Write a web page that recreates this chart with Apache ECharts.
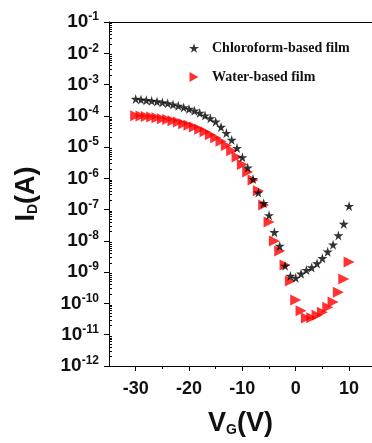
<!DOCTYPE html>
<html>
<head>
<meta charset="utf-8">
<script src="https://cdn.jsdelivr.net/npm/echarts@6/dist/echarts.min.js"></script>
<style>
html,body{margin:0;padding:0;background:#fff;}
#wrap{position:relative;width:372px;height:443px;}
#c,#f{position:absolute;left:0;top:0;width:372px;height:443px;}
#f{pointer-events:none;}
#err{position:absolute;left:2px;bottom:0;font:8px sans-serif;color:#999;}
</style>
</head>
<body>
<div id="wrap"><div id="c"></div><div id="f"></div><div id="err"></div></div>
<script>
// Gate voltage (V)
const vg = [-30,-29,-28,-27,-26,-25,-24,-23,-22,-21,-20,-19,-18,-17,-16,-15,-14,-13,-12,-11,-10,-9,-8,-7,-6,-5,-4,-3,-2,-1,0,1,2,3,4,5,6,7,8,9,10];
// Drain current (A), chloroform-based film
const chloroform = [3.47e-4,3.31e-4,3.16e-4,3.02e-4,2.88e-4,2.69e-4,2.51e-4,2.29e-4,2.09e-4,1.86e-4,1.66e-4,1.45e-4,1.23e-4,1.02e-4,8.3e-5,6.5e-5,4.4e-5,2.8e-5,1.7e-5,9.3e-6,4.7e-6,2.2e-6,9.5e-7,3.5e-7,1.6e-7,6.6e-8,1.9e-8,6.9e-9,1.6e-9,7.6e-10,6.6e-10,8.9e-10,1.17e-9,1.41e-9,1.9e-9,2.8e-9,4.5e-9,7.6e-9,1.5e-8,3.5e-8,1.3e-7];
// Drain current (A), water-based film
const water = [1.0e-4,9.8e-5,9.5e-5,9.1e-5,8.7e-5,8.1e-5,7.6e-5,6.9e-5,6.3e-5,5.6e-5,5.0e-5,4.4e-5,3.7e-5,3.1e-5,2.5e-5,2.0e-5,1.55e-5,1.12e-5,7.6e-6,4.8e-6,2.8e-6,1.6e-6,8.9e-7,4.0e-7,1.4e-7,4.0e-8,1.0e-8,4.8e-9,1.7e-9,5.2e-10,1.3e-10,5.8e-11,3.4e-11,3.5e-11,4.2e-11,5.2e-11,7.6e-11,1.12e-10,2.3e-10,6.0e-10,2.1e-9];
const xMajorTicks = [-30,-20,-10,0,10];
const xMinorTicks = [-25,-15,-5,5];
const yMajorTicks = [1e-12,1e-11,1e-10,1e-9,1e-8,1e-7,1e-6,1e-5,1e-4,1e-3,1e-2,1e-1];
const seriesNames = ['Chloroform-based film','Water-based film'];

const yMinorTicks = [];
for (let e = -12; e < -1; e++) for (let m = 2; m <= 9; m++) yMinorTicks.push(m * Math.pow(10, e));

const X_MIN = -35, X_MAX = 14.3, Y_MIN = 1e-12, Y_MAX = 1e-1;
const GRID = {left: 109, top: 22, right: 0, height: 344};
const STAR = 'path://M50,0 L61,35 L98,35 L68,57 L79,91 L50,70 L21,91 L32,57 L2,35 L39,35 Z';
const TRI = 'path://M0,0 L90,50 L0,100 Z';
const sans = 'Liberation Sans, Arial, sans-serif';
const serif = 'Liberation Serif, Times New Roman, serif';
const AX = '#000';

// ---- main chart: marks, labels, names, legend ----
try {
  const chart = echarts.init(document.getElementById('c'), null, {renderer: 'canvas'});
  chart.setOption({
    animation: false,
    grid: GRID,
    legend: {
      orient: 'vertical', left: 184, top: 36,
      itemWidth: 10, itemHeight: 10, itemGap: 15,
      textStyle: {fontFamily: serif, fontWeight: 'bold', fontSize: 14, color: '#111', lineHeight: 14, padding: [0,0,0,8]},
      data: [{name: seriesNames[0], icon: STAR}, {name: seriesNames[1], icon: TRI}]
    },
    xAxis: [{
      type: 'value', min: X_MIN, max: X_MAX, position: 'bottom',
      axisLine: {show: false, onZero: false}, splitLine: {show: false}, axisTick: {show: false},
      axisLabel: {customValues: xMajorTicks, margin: 14, fontFamily: sans, fontWeight: 'bold', fontSize: 18, color: '#111'},
      name: '{b|V}{sub|G}{b|(V)}', nameLocation: 'middle', nameGap: 44,
      nameTextStyle: {rich: {
        b: {fontFamily: sans, fontWeight: 'bold', fontSize: 27, color: '#111'},
        sub: {fontFamily: sans, fontWeight: 'bold', fontSize: 14, color: '#111', verticalAlign: 'bottom', padding: [12,0,0,0]}
      }}
    }],
    yAxis: [{
      type: 'log', logBase: 10, min: Y_MIN, max: Y_MAX, position: 'left',
      axisLine: {show: false, onZero: false}, splitLine: {show: false}, axisTick: {show: false},
      axisLabel: {margin: 10, customValues: yMajorTicks, formatter: function (v) {
          const e = Math.round(Math.log10(v));
          return '{b|10}{s|' + e + '}';
        }, rich: {
          b: {fontFamily: sans, fontWeight: 'bold', fontSize: 19, color: '#111'},
          s: {fontFamily: sans, fontWeight: 'bold', fontSize: 12, color: '#111', verticalAlign: 'top', padding: [0,0,10,0]}
        }},
      name: '{b|I}{sub|D}{b|(A)}', nameLocation: 'middle', nameGap: 69, nameRotate: 90,
      nameTextStyle: {rich: {
        b: {fontFamily: sans, fontWeight: 'bold', fontSize: 27, color: '#111'},
        sub: {fontFamily: sans, fontWeight: 'bold', fontSize: 14, color: '#111', verticalAlign: 'bottom', padding: [12,0,0,0]}
      }}
    }],
    series: [
      {name: seriesNames[1], type: 'scatter', symbol: TRI, symbolSize: 11,
       itemStyle: {color: '#ff0000'}, data: vg.map((v, i) => [v, water[i]])},
      {name: seriesNames[0], type: 'scatter', symbol: STAR, symbolSize: 10,
       itemStyle: {color: '#000000'}, data: vg.map((v, i) => [v, chloroform[i]])}
    ]
  });
} catch (e) {
  document.getElementById('err').textContent = 'main: ' + (e && e.message);
}

// ---- frame chart: axis lines and tick marks only, same grid and scales ----
try {
  const frame = echarts.init(document.getElementById('f'), null, {renderer: 'canvas'});
  const line = {show: true, onZero: false, lineStyle: {color: AX, width: 1}};
  const none = {show: false, onZero: false};
  frame.setOption({
    animation: false,
    backgroundColor: 'transparent',
    grid: GRID,
    xAxis: [
      {type: 'value', min: X_MIN, max: X_MAX, position: 'bottom', axisLine: line, splitLine: {show: false},
       axisLabel: {show: false}, axisTick: {show: true, length: 5, customValues: xMajorTicks, lineStyle: {color: AX, width: 1}}},
      {type: 'value', min: X_MIN, max: X_MAX, position: 'bottom', axisLine: none, splitLine: {show: false},
       axisLabel: {show: false}, axisTick: {show: true, length: 3, customValues: xMinorTicks, lineStyle: {color: AX, width: 1}}},
      {type: 'value', min: X_MIN, max: X_MAX, position: 'top', axisLine: line, splitLine: {show: false},
       axisLabel: {show: false}, axisTick: {show: false}}
    ],
    yAxis: [
      {type: 'log', min: Y_MIN, max: Y_MAX, position: 'left', axisLine: line, splitLine: {show: false},
       axisLabel: {show: false}, axisTick: {show: true, length: 5, customValues: yMajorTicks, lineStyle: {color: AX, width: 1}}},
      {type: 'log', min: Y_MIN, max: Y_MAX, position: 'left', axisLine: none, splitLine: {show: false},
       axisLabel: {show: false}, axisTick: {show: true, inside: true, length: 3, customValues: yMinorTicks, lineStyle: {color: AX, width: 1}}}
    ],
    series: []
  });
} catch (e) {
  document.getElementById('err').textContent += ' frame: ' + (e && e.message);
}
</script>
</body>
</html>
